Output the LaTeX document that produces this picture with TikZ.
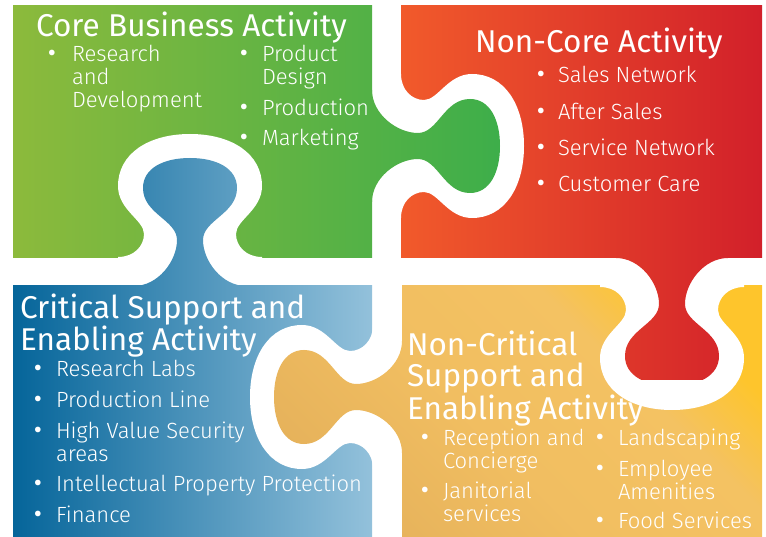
\documentclass[tikz,border=0pt]{standalone}
\usepackage{fontspec}
\setmainfont{Fira Sans}
\newfontfamily\itemfont{Fira Sans Light}
\usetikzlibrary{calc}
\definecolor{gleft}{HTML}{8CBA3C}
\definecolor{gright}{HTML}{3DAE4A}
\definecolor{rleft}{HTML}{F15A2B}
\definecolor{rright}{HTML}{D2202A}
\definecolor{bleft}{HTML}{05659A}
\definecolor{bmid}{HTML}{2384B4}
\definecolor{bright}{HTML}{93C1DB}
\definecolor{ylow}{HTML}{E6B25B}
\definecolor{ymid}{HTML}{F1BE61}
\definecolor{ymid2}{HTML}{F4C262}
\definecolor{yhigh}{HTML}{FEC52C}
\pgfdeclareverticalshading{yellowshade}{100bp}{color(0bp)=(ylow); color(25bp)=(ylow);
  color(45bp)=(ymid); color(64bp)=(ymid2); color(75bp)=(yhigh); color(100bp)=(yhigh)}
% one puzzle tab, v outwards from its own edge, u across
\newcommand{\tabshape}{(-2,-56) -- (0,-56) .. controls (0,-32) and (25,-13) .. (46,-13)
  .. controls (66,-13) and (72,-47) .. (98,-47) .. controls (118,-47) and (128,-26) .. (128,0)
  .. controls (128,26) and (118,47) .. (98,47) .. controls (72,47) and (66,13) .. (46,13)
  .. controls (25,13) and (0,32) .. (0,56) -- (-2,56) -- cycle}
% the hole it leaves in the next piece
\newcommand{\sockshape}{(24,-72) -- (29,-72) .. controls (29,-56) and (40,-46) .. (52,-46)
  .. controls (66,-46) and (76,-72) .. (100,-72) .. controls (132,-72) and (152,-42) .. (152,0)
  .. controls (152,42) and (132,72) .. (100,72) .. controls (76,72) and (66,46) .. (52,46)
  .. controls (40,46) and (29,56) .. (29,72) -- (24,72) -- cycle}
\tikzset{greenfill/.style={left color=gleft,right color=gright},
  redfill/.style={left color=rleft,right color=rright},
  bluefill/.style={left color=bleft,middle color=bmid,right color=bright},
  yellowfill/.style={shading=yellowshade,shading angle=-45},
  greentab/.style={shift={(372,146)},x={(1pt,0pt)},y={(0pt,-1pt)}},
  bluetab/.style={shift={(190,286)},x={(0pt,1pt)},y={(1pt,0pt)}},
  yellowtab/.style={shift={(402,397)},x={(-1pt,0pt)},y={(0pt,-1pt)}},
  redtab/.style={shift={(672,258)},x={(0pt,-1pt)},y={(1pt,0pt)}},
  heading/.style={anchor=base west,text=white,align=left,font=\fontsize{31.5}{31}\selectfont},
  entry/.style={anchor=base west,text=white,align=left,font=\itemfont\fontsize{22}{23}\selectfont},
  bulletdot/.style={anchor=base,text=white,text height=9pt,text depth=0pt,font=\fontsize{25}{23}\selectfont}}

\begin{document}
\begin{tikzpicture}[x=1pt,y=-1pt,inner sep=0pt,outer sep=0pt]
\useasboundingbox (0,0) rectangle (766,537);
% the four pieces
\begin{scope}\clip (13,6) rectangle (372,258); \shade[greenfill] (13,6) rectangle (503,258);\end{scope}
\begin{scope}\clip (401,6) rectangle (762,258); \shade[redfill] (401,6) rectangle (762,380);\end{scope}
\begin{scope}\clip (13,286) rectangle (372,537); \shade[bluefill] (13,155) rectangle (372,537);\end{scope}
\begin{scope}\clip (402,286) rectangle (762,537); \shade[yellowfill] (272,286) rectangle (762,537);\end{scope}
% holes
\fill[white,greentab] \sockshape;
\fill[white,bluetab] \sockshape;
\fill[white,yellowtab] \sockshape;
\fill[white,redtab] \sockshape;
% tabs
\begin{scope}\clip[greentab] \tabshape; \shade[greenfill] (13,6) rectangle (503,258);\end{scope}
\begin{scope}\clip[bluetab] \tabshape; \shade[bluefill] (13,155) rectangle (372,537);\end{scope}
\begin{scope}\clip[yellowtab] \tabshape; \shade[yellowfill] (272,286) rectangle (762,537);\end{scope}
\begin{scope}\clip[redtab] \tabshape; \shade[redfill] (401,6) rectangle (762,380);\end{scope}

% Core Business Activity
\node[heading] (core) at (36,37) {Core Business Activity};
\foreach \y/\t/\k in {62/{Research\\and\\Development}/2}{
  \node[bulletdot] (core-d\y) at (52,\y) {•};
  \node[entry] (core-a\y) at (72,{\y+23*\k}) {\t};}
\foreach \y/\t/\k in {62/{Product\\Design}/1,116/Production/0,146/Marketing/0}{
  \node[bulletdot] (core-e\y) at (244,\y) {•};
  \node[entry] (core-b\y) at (262,{\y+23*\k}) {\t};}
% Non-Core Activity
\node[heading] (noncore) at (475,53) {Non-Core Activity};
\foreach \y/\t in {83/Sales Network,120/After Sales,156/Service Network,192/Customer Care}{
  \node[bulletdot] (noncore-d\y) at (541,\y) {•};
  \node[entry] (noncore-a\y) at (558,\y) {\t};}
% Critical Support and Enabling Activity
\node[heading] (crit) at (20,351) {Critical Support and\\Enabling Activity};
\foreach \y/\t/\k in {377/Research Labs/0,407/Production Line/0,438/{High Value Security\\areas}/1,491/Intellectual Property Protection/0,522/Finance/0}{
  \node[bulletdot] (crit-d\y) at (38,\y) {•};
  \node[entry] (crit-a\y) at (56,{\y+23*\k}) {\t};}
% Non-Critical Support and Enabling Activity
\node[heading] (noncrit) at (407,419) {Non-Critical\\Support and\\Enabling Activity};
\foreach \y/\t/\k in {445/{Reception and\\Concierge}/1,498/{Janitorial\\services}/1}{
  \node[bulletdot] (noncrit-d\y) at (425,\y) {•};
  \node[entry] (noncrit-a\y) at (443,{\y+23*\k}) {\t};}
\foreach \y/\t/\k in {445/Landscaping/0,476/{Employee\\Amenities}/1,528/Food Services/0}{
  \node[bulletdot] (noncrit-e\y) at (600,\y) {•};
  \node[entry] (noncrit-b\y) at (618,{\y+23*\k}) {\t};}
\end{tikzpicture}
\end{document}
